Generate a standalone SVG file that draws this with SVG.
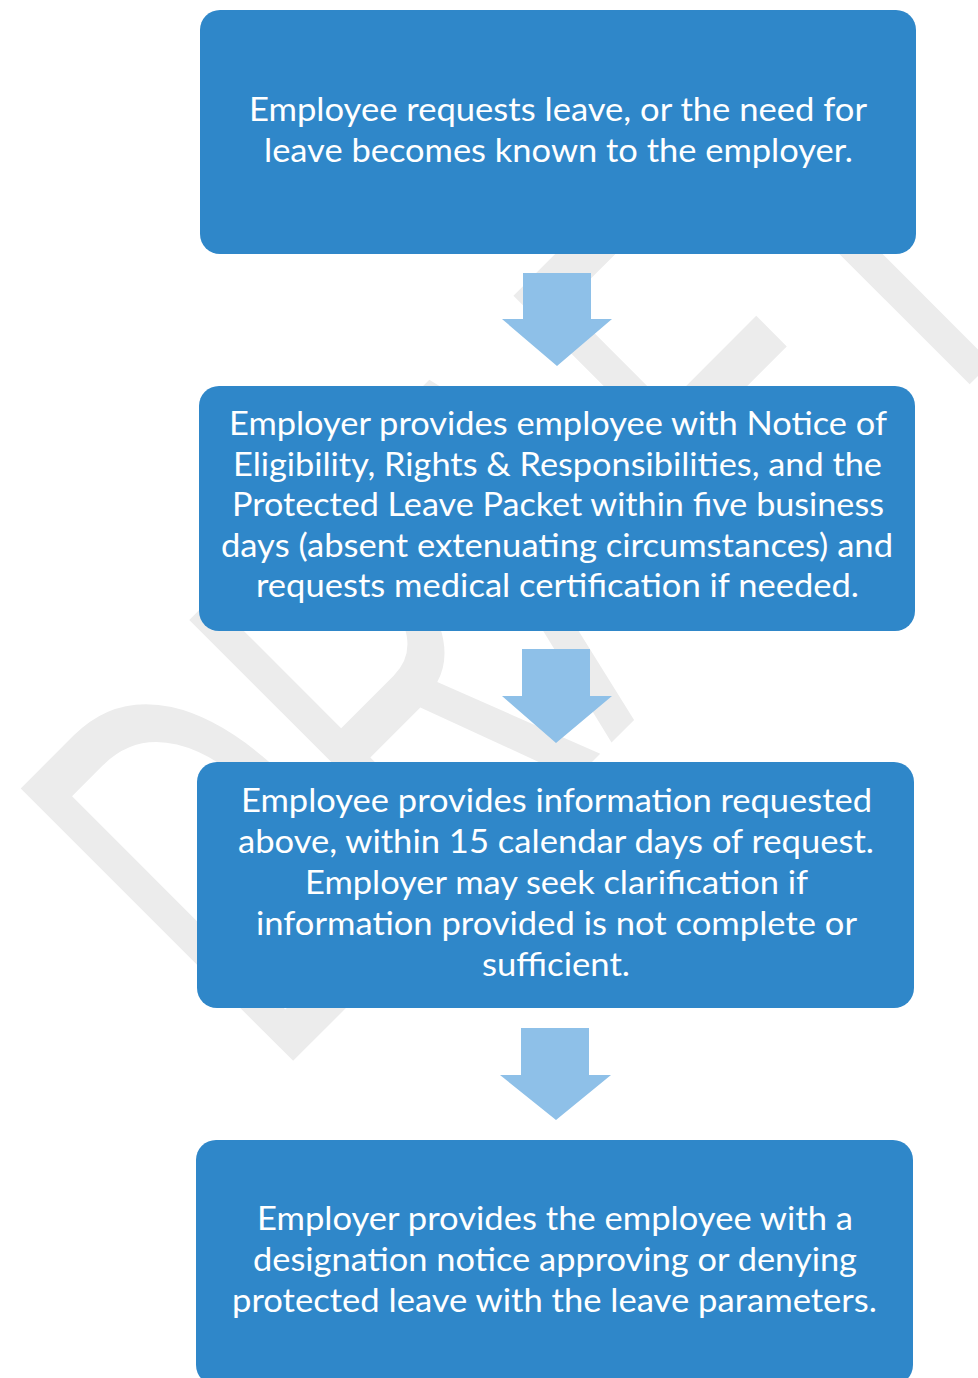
<svg xmlns="http://www.w3.org/2000/svg" width="978" height="1378" viewBox="0 0 978 1378">
  <style>
    .box { fill: #2f87c9; }
    .arrow { fill: #8ec0e8; }
    .label { fill: #ffffff; font-family: Lato, "Open Sans", "Liberation Sans", sans-serif; font-size: 32px; text-anchor: middle; }
    .mark { fill: #ececec; font-family: "Liberation Sans", Arial, sans-serif; font-size: 560px; }
  </style>
  <rect width="978" height="1378" fill="#ffffff"/>

  <!-- background watermark, set diagonally behind the flow -->
  <g id="watermark">
    <text class="mark" transform="translate(274,1080) rotate(-45)" x="0" y="0" textLength="1100" lengthAdjust="spacingAndGlyphs">DRAFT</text>
  </g>

  <!-- block arrows between steps -->
  <g id="connectors">
    <polygon class="arrow" points="523,273 591,273 591,319 612,319 557,366 502,319 523,319"/>
    <polygon class="arrow" points="522,649 590,649 590,696 612,696 556,743 502,696 522,696"/>
    <polygon class="arrow" points="521,1028 589,1028 589,1075 611,1075 556,1120 500,1075 521,1075"/>
  </g>

  <g id="step1">
    <rect class="box" x="200" y="10" width="716" height="244" rx="20" ry="20"/>
    <text class="label" x="558" y="121" textLength="618" lengthAdjust="spacingAndGlyphs">Employee requests leave, or the need for</text>
    <text class="label" x="558.5" y="162" textLength="589" lengthAdjust="spacingAndGlyphs">leave becomes known to the employer.</text>
  </g>

  <g id="step2">
    <rect class="box" x="199" y="386" width="716" height="245" rx="20" ry="20"/>
    <text class="label" x="558" y="435" textLength="658" lengthAdjust="spacingAndGlyphs">Employer provides employee with Notice of</text>
    <text class="label" x="557.5" y="475.5" textLength="649" lengthAdjust="spacingAndGlyphs">Eligibility, Rights &amp; Responsibilities, and the</text>
    <text class="label" x="558" y="516" textLength="652" lengthAdjust="spacingAndGlyphs">Protected Leave Packet within five business</text>
    <text class="label" x="557" y="556.5" textLength="672" lengthAdjust="spacingAndGlyphs">days (absent extenuating circumstances) and</text>
    <text class="label" x="557.5" y="597" textLength="603" lengthAdjust="spacingAndGlyphs">requests medical certification if needed.</text>
  </g>

  <g id="step3">
    <rect class="box" x="197" y="762" width="717" height="246" rx="20" ry="20"/>
    <text class="label" x="556.5" y="812" textLength="631" lengthAdjust="spacingAndGlyphs">Employee provides information requested</text>
    <text class="label" x="556" y="853" textLength="636" lengthAdjust="spacingAndGlyphs">above, within 15 calendar days of request.</text>
    <text class="label" x="556.5" y="893.5" textLength="503" lengthAdjust="spacingAndGlyphs">Employer may seek clarification if</text>
    <text class="label" x="556.5" y="934.5" textLength="601" lengthAdjust="spacingAndGlyphs">information provided is not complete or</text>
    <text class="label" x="556" y="976" textLength="148" lengthAdjust="spacingAndGlyphs">sufficient.</text>
  </g>

  <g id="step4">
    <rect class="box" x="196" y="1140" width="717" height="245" rx="20" ry="20"/>
    <text class="label" x="555" y="1230" textLength="596" lengthAdjust="spacingAndGlyphs">Employer provides the employee with a</text>
    <text class="label" x="555" y="1271" textLength="604" lengthAdjust="spacingAndGlyphs">designation notice approving or denying</text>
    <text class="label" x="554.5" y="1312" textLength="645" lengthAdjust="spacingAndGlyphs">protected leave with the leave parameters.</text>
  </g>
</svg>
